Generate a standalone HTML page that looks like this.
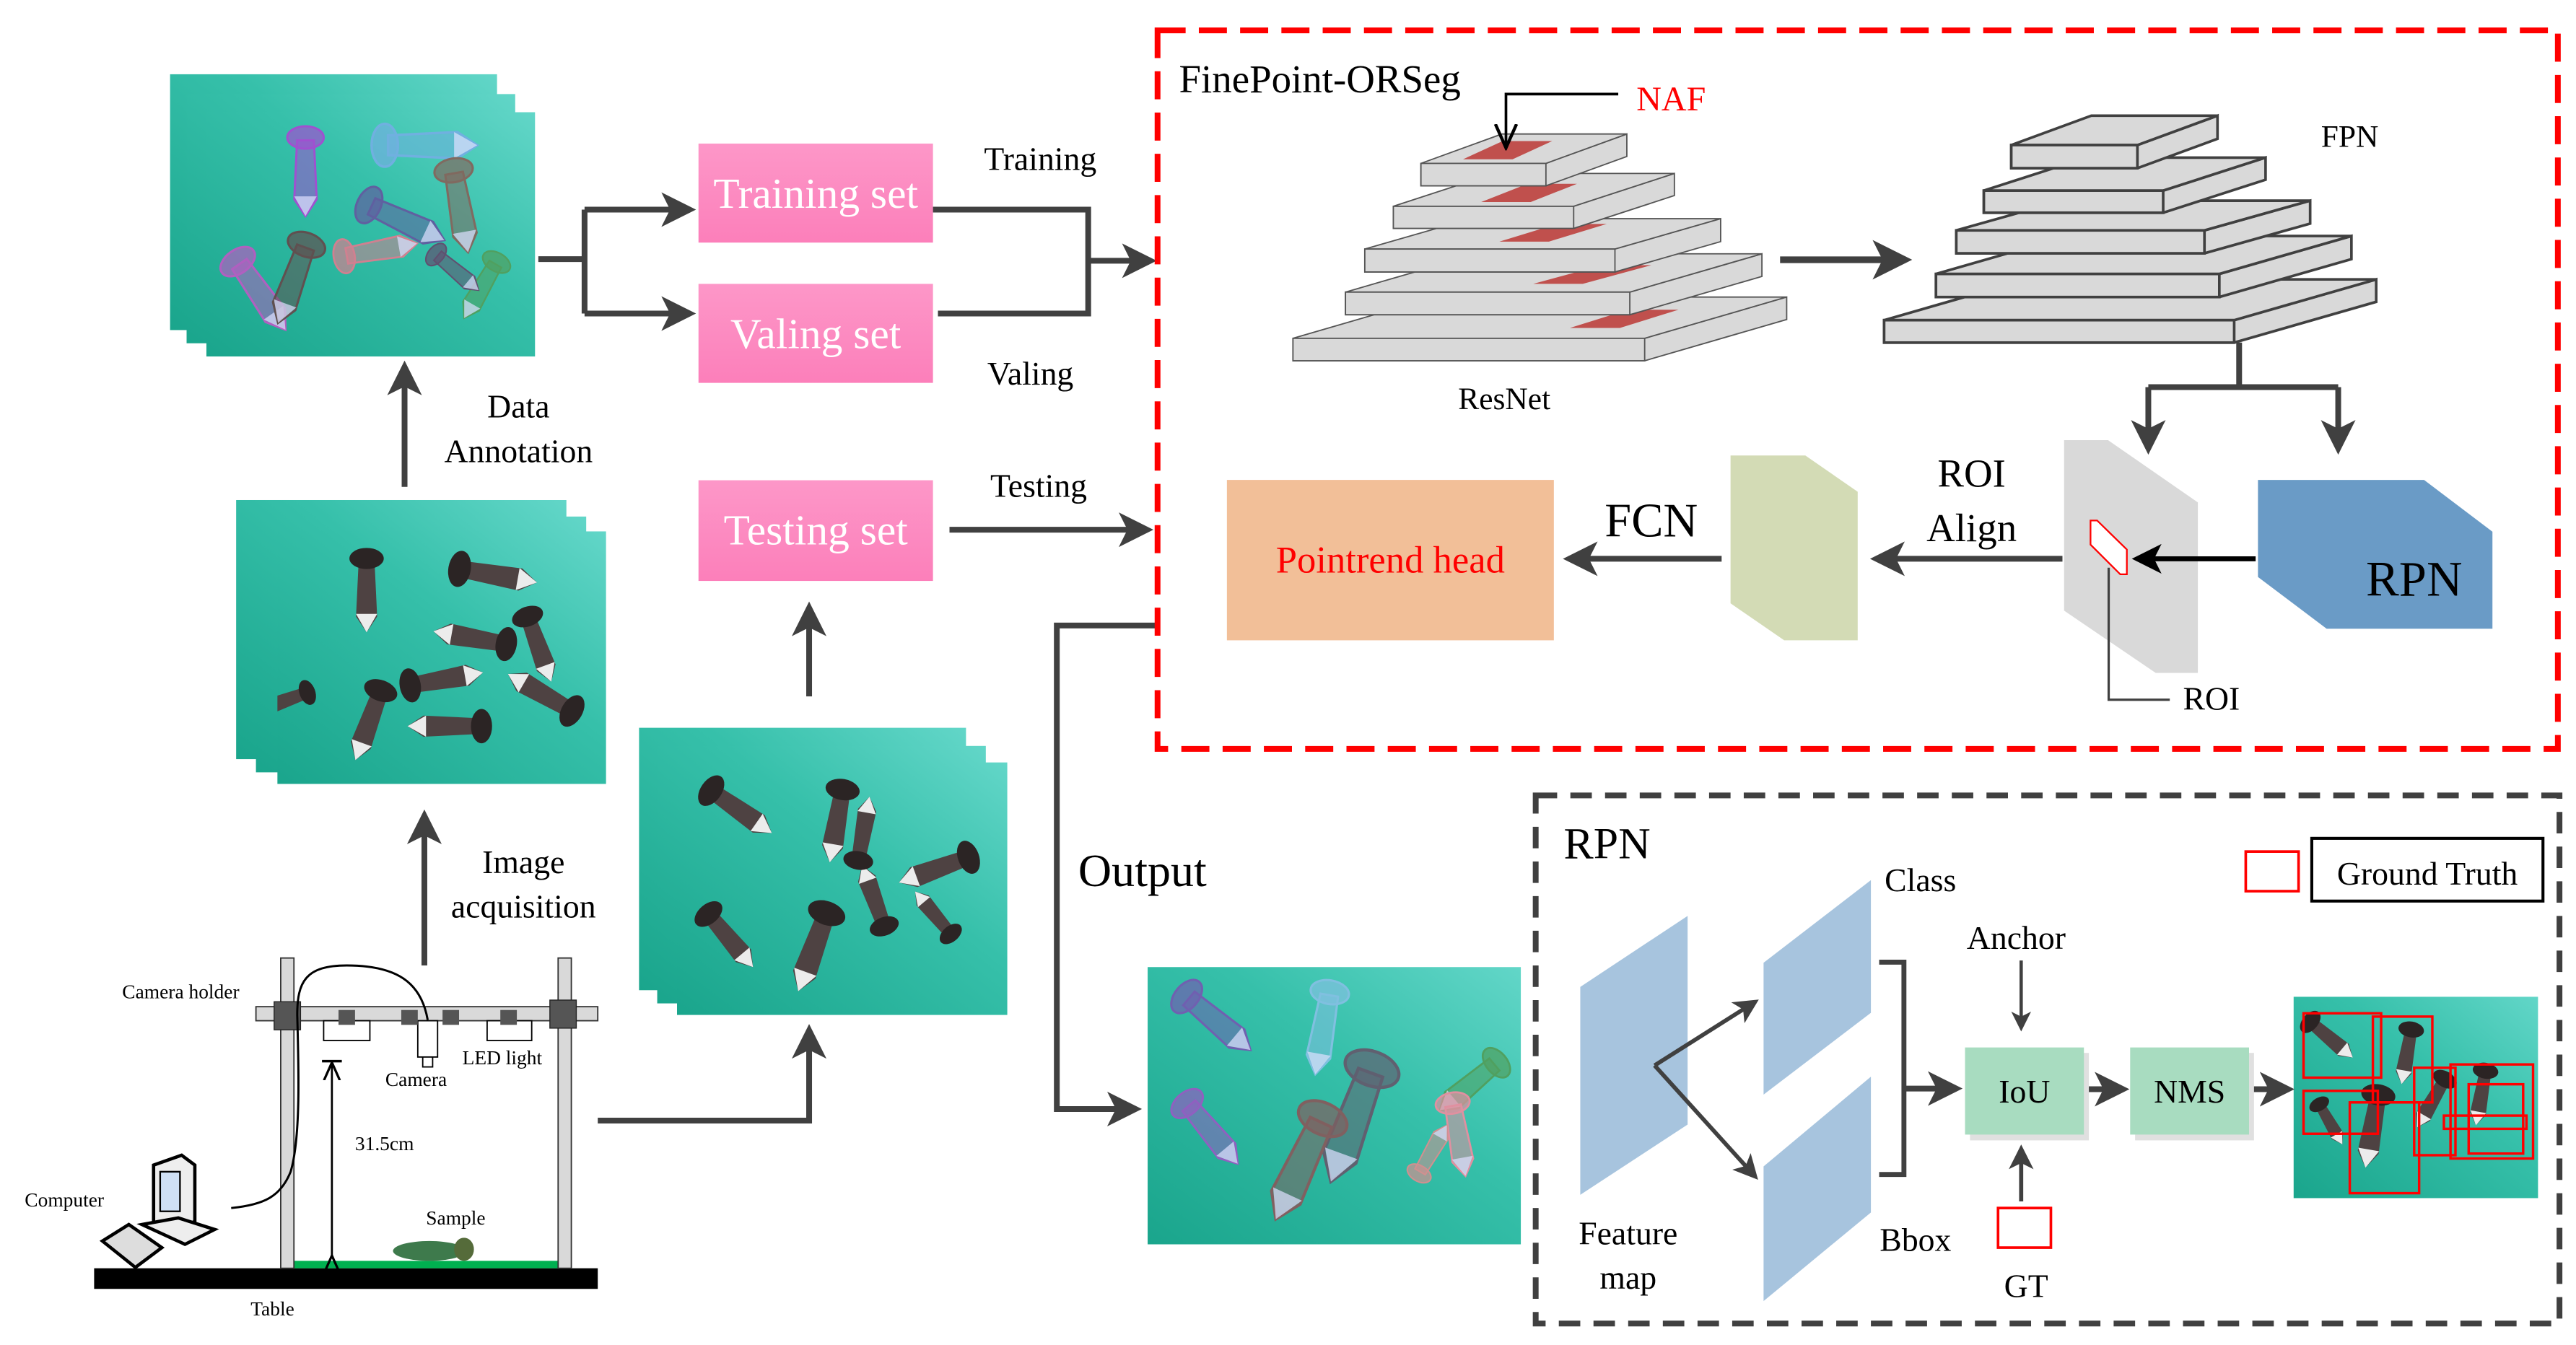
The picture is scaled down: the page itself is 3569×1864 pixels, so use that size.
<!DOCTYPE html>
<html><head><meta charset="utf-8"><style>html,body{margin:0;padding:0;background:#fff;overflow:hidden;width:3569px;height:1864px}svg{display:block}text{font-family:"Liberation Serif",serif}</style></head>
<body>
<svg width="3569" height="1864" viewBox="0 0 1560 815" preserveAspectRatio="none" xmlns="http://www.w3.org/2000/svg">
<defs>
<linearGradient id="tg" x1="0" y1="1" x2="1" y2="0"><stop offset="0" stop-color="#1aa58c"/><stop offset="0.6" stop-color="#36c0aa"/><stop offset="1" stop-color="#62d6c8"/></linearGradient>
<linearGradient id="pk" x1="0" y1="0" x2="0" y2="1"><stop offset="0" stop-color="#fd97c8"/><stop offset="1" stop-color="#fc7fba"/></linearGradient>
<g id="m"><polygon points="0,-6 42,-8 54,0 42,8 0,6" fill="#4e4242"/><polygon points="40,-8 54,0 40,8" fill="#ececec"/><ellipse cx="-2" cy="0" rx="8" ry="13" fill="#2b2424"/></g>
<g id="a"><polygon points="0,-6 42,-8 54,0 42,8 0,6" fill="currentColor" fill-opacity="0.55" stroke="currentColor" stroke-width="1.5"/><polygon points="40,-8 54,0 40,8" fill="#e0e0ff" fill-opacity="0.7"/><ellipse cx="-2" cy="0" rx="8" ry="13" fill="currentColor" fill-opacity="0.7" stroke="currentColor" stroke-width="1.5"/></g>
<marker id="ah" markerWidth="6" markerHeight="6" refX="5" refY="3" orient="auto" markerUnits="strokeWidth"><path d="M0,0 L6,3 L0,6 L1.5,3 z" fill="#404040"/></marker>
<marker id="ahb" markerWidth="6" markerHeight="6" refX="5" refY="3" orient="auto" markerUnits="strokeWidth"><path d="M0,0 L6,3 L0,6 L1.5,3 z" fill="#000"/></marker>
<marker id="ahs" markerWidth="10" markerHeight="10" refX="8" refY="5" orient="auto" markerUnits="strokeWidth"><path d="M0,1 L9,5 L0,9" fill="none" stroke="#000" stroke-width="1.2"/></marker>
<clipPath id="c1"><rect x="125" y="68" width="199" height="148"/></clipPath>
<clipPath id="c2"><rect x="168" y="322" width="199" height="153"/></clipPath>
<clipPath id="c3"><rect x="410" y="462" width="200" height="153"/></clipPath>
<clipPath id="c4"><rect x="695" y="586" width="226" height="168"/></clipPath>
<clipPath id="c5"><rect x="1389" y="604" width="148" height="122"/></clipPath>
</defs>

<!-- annotated stack -->
<rect x="103" y="45" width="198" height="155" fill="url(#tg)"/>
<rect x="113" y="57" width="199" height="151" fill="url(#tg)"/>
<rect x="125" y="68" width="199" height="148" fill="url(#tg)"/>
<g clip-path="url(#c1)">
<use href="#a" transform="translate(185,85) rotate(90) scale(0.85)" color="#a050d0"/>
<use href="#a" transform="translate(235,88) scale(1)" color="#70b0e0"/>
<use href="#a" transform="translate(225,125) rotate(25) scale(0.9)" color="#6060a0"/>
<use href="#a" transform="translate(275,105) rotate(80) scale(0.9)" color="#806a60"/>
<use href="#a" transform="translate(145,160) rotate(55) scale(0.9)" color="#b060c0"/>
<use href="#a" transform="translate(185,150) rotate(110) scale(0.9)" color="#605050"/>
<use href="#a" transform="translate(210,155) rotate(-10) scale(0.8)" color="#d08090"/>
<use href="#a" transform="translate(300,160) rotate(120) scale(0.7)" color="#50a060"/>
<use href="#a" transform="translate(265,155) rotate(40) scale(0.6)" color="#605070"/>
</g>

<!-- raw stack -->
<rect x="143" y="303" width="200" height="157" fill="url(#tg)"/>
<rect x="155" y="313" width="200" height="155" fill="url(#tg)"/>
<rect x="168" y="322" width="199" height="153" fill="url(#tg)"/>
<g clip-path="url(#c2)">
<use href="#m" transform="translate(222,340) rotate(90) scale(0.8)"/>
<use href="#m" transform="translate(280,345) rotate(10) scale(0.85)"/>
<use href="#m" transform="translate(305,390) rotate(190) scale(0.8)"/>
<use href="#m" transform="translate(320,375) rotate(70) scale(0.75)"/>
<use href="#m" transform="translate(230,420) rotate(110) scale(0.8)"/>
<use href="#m" transform="translate(250,415) rotate(-10) scale(0.8)"/>
<use href="#m" transform="translate(290,440) rotate(180) scale(0.8)"/>
<use href="#m" transform="translate(345,430) rotate(210) scale(0.8)"/>
<use href="#m" transform="translate(185,420) rotate(160) scale(0.6)"/>
</g>

<!-- test stack -->
<rect x="387" y="441" width="198" height="159" fill="url(#tg)"/>
<rect x="398" y="452" width="199" height="156" fill="url(#tg)"/>
<rect x="410" y="462" width="200" height="153" fill="url(#tg)"/>
<g clip-path="url(#c3)">
<use href="#m" transform="translate(432,480) rotate(35) scale(0.8)"/>
<use href="#m" transform="translate(510,480) rotate(100) scale(0.8)"/>
<use href="#m" transform="translate(585,520) rotate(160) scale(0.8)"/>
<use href="#m" transform="translate(430,555) rotate(50) scale(0.75)"/>
<use href="#m" transform="translate(500,555) rotate(110) scale(0.9)"/>
<use href="#m" transform="translate(535,560) rotate(-110) scale(0.7)"/>
<use href="#m" transform="translate(575,565) rotate(-130) scale(0.6)"/>
<use href="#m" transform="translate(520,520) rotate(-80) scale(0.7)"/>
</g>

<!-- output image -->
<rect x="695" y="586" width="226" height="168" fill="url(#tg)"/>
<g clip-path="url(#c4)">
<use href="#a" transform="translate(720,605) rotate(40) scale(0.9)" color="#7060b0"/>
<use href="#a" transform="translate(805,603) rotate(100) scale(0.9)" color="#80c0e0"/>
<use href="#a" transform="translate(720,670) rotate(50) scale(0.85)" color="#9060c0"/>
<use href="#a" transform="translate(830,650) rotate(110) scale(1.3)" color="#606070"/>
<use href="#a" transform="translate(800,680) rotate(115) scale(1.2)" color="#806060"/>
<use href="#a" transform="translate(905,645) rotate(140) scale(0.8)" color="#50a060"/>
<use href="#a" transform="translate(880,670) rotate(80) scale(0.8)" color="#e090a0"/>
<use href="#a" transform="translate(860,710) rotate(-60) scale(0.6)" color="#d09090"/>
</g>

<!-- result image -->
<rect x="1389" y="604" width="148" height="122" fill="url(#tg)"/>
<g clip-path="url(#c5)">
<use href="#m" transform="translate(1400,620) rotate(40) scale(0.6)"/>
<use href="#m" transform="translate(1460,625) rotate(100) scale(0.6)"/>
<use href="#m" transform="translate(1405,670) rotate(60) scale(0.5)"/>
<use href="#m" transform="translate(1440,665) rotate(100) scale(0.8)"/>
<use href="#m" transform="translate(1505,650) rotate(100) scale(0.6)"/>
<use href="#m" transform="translate(1480,655) rotate(120) scale(0.6)"/>
</g>
<g fill="none" stroke="#ff0000" stroke-width="1.5">
<rect x="1395" y="614" width="47" height="39"/><rect x="1437" y="616" width="36" height="52"/>
<rect x="1395" y="661" width="45" height="26"/><rect x="1423" y="668" width="42" height="55"/>
<rect x="1462" y="647" width="25" height="53"/><rect x="1484" y="645" width="50" height="57"/>
<rect x="1495" y="657" width="33" height="42"/><rect x="1480" y="676" width="50" height="8"/>
</g>

<!-- pink boxes -->
<rect x="423" y="87" width="142" height="60" fill="url(#pk)"/>
<rect x="423" y="172" width="142" height="60" fill="url(#pk)"/>
<rect x="423" y="291" width="142" height="61" fill="url(#pk)"/>
<g fill="#fff" font-size="26" text-anchor="middle">
<text x="494" y="126">Training set</text>
<text x="494" y="211">Valing set</text>
<text x="494" y="330">Testing set</text>
</g>

<!-- left arrows -->
<g stroke="#404040" stroke-width="3.5" fill="none">
<path d="M326,157 H354 M354,127 V190" />
<path d="M354,127 H418" marker-end="url(#ah)"/>
<path d="M354,190 H418" marker-end="url(#ah)"/>
<path d="M565,127 H659 V190 H568"/>
<path d="M659,158 H697" marker-end="url(#ah)"/>
<path d="M575,321 H695" marker-end="url(#ah)"/>
<path d="M245,295 V222" marker-end="url(#ah)"/>
<path d="M257,585 V494" marker-end="url(#ah)"/>
<path d="M490,422 V368" marker-end="url(#ah)"/>
<path d="M362,679 H490 V624" marker-end="url(#ah)"/>
<path d="M700,379 H640 V672 H688" marker-end="url(#ah)"/>
</g>
<g font-size="20" text-anchor="middle" fill="#000">
<text x="630" y="103">Training</text>
<text x="624" y="233">Valing</text>
<text x="629" y="301">Testing</text>
<text x="314" y="253">Data</text>
<text x="314" y="280">Annotation</text>
<text x="317" y="529">Image</text>
<text x="317" y="556">acquisition</text>
</g>
<text x="653" y="537" font-size="28">Output</text>

<!-- red dashed box -->
<rect x="701" y="18.4" width="848" height="435.4" fill="none" stroke="#ff0000" stroke-width="3.5" stroke-dasharray="17,8"/>
<text x="714" y="56" font-size="24">FinePoint-ORSeg</text>
<text x="991" y="67" font-size="21" fill="#ff0000">NAF</text>

<!-- resnet slabs -->
<g stroke="#555" stroke-width="0.8" fill="#d9d9d9">
<g><polygon points="783,218.6 996,218.6 1082,193.6 1082,180 996,205 783,205"/><polygon points="783,205 869,180 1082,180 996,205"/><rect x="783" y="205" width="213" height="13.6"/></g>
<polygon fill="#c0504d" stroke="none" points="950.7,198.7 981,198.7 1016.5,187.7 986,187.7"/>
<g><polygon points="814.8,190.7 987,190.7 1067,167.5 1067,153.8 987,177 814.8,177"/><polygon points="814.8,177 894.8,153.8 1067,153.8 987,177"/><rect x="814.8" y="177" width="172.2" height="13.7"/></g>
<polygon fill="#c0504d" stroke="none" points="928.5,172 958.5,172 1000,160.7 970,160.7"/>
<g><polygon points="826.5,164.8 978,164.8 1042,146.4 1042,132.5 978,150.9 826.5,150.9"/><polygon points="826.5,150.9 890.5,132.5 1042,132.5 978,150.9"/><rect x="826.5" y="150.9" width="151.5" height="13.9"/></g>
<polygon fill="#c0504d" stroke="none" points="908,146.4 938,146.4 973,135.7 943,135.7"/>
<g><polygon points="843.8,138.4 953,138.4 1014,118.5 1014,105.1 953,125 843.8,125"/><polygon points="843.8,125 904.8,105.1 1014,105.1 953,125"/><rect x="843.8" y="125" width="109.2" height="13.4"/></g>
<polygon fill="#c0504d" stroke="none" points="897,122.4 927,122.4 955,111.4 925,111.4"/>
<g><polygon points="860.5,112.6 936.2,112.6 985.2,94.8 985.2,81.2 936.2,99 860.5,99"/><polygon points="860.5,99 909.5,81.2 985.2,81.2 936.2,99"/><rect x="860.5" y="99" width="75.7" height="13.6"/></g>
<polygon fill="#c0504d" stroke="none" points="886,96.5 916,96.5 940,85.5 910,85.5"/>
</g>
<path d="M980,57 H912 V88" stroke="#000" stroke-width="1.6" fill="none" marker-end="url(#ahs)"/>
<text x="911" y="248" font-size="19" text-anchor="middle">ResNet</text>

<path d="M1078,157.4 H1154" stroke="#404040" stroke-width="4" marker-end="url(#ah)"/>

<!-- FPN slabs -->
<g stroke="#404040" stroke-width="1.6" fill="#d9d9d9">
<g><polygon points="1141,207.6 1353,207.6 1439,182.9 1439,169.3 1353,194 1141,194"/><polygon points="1141,194 1227,169.3 1439,169.3 1353,194"/><rect x="1141" y="194" width="212" height="13.6"/></g>
<g><polygon points="1172.4,180 1344,180 1424,157 1424,143 1344,166 1172.4,166"/><polygon points="1172.4,166 1252.4,143 1424,143 1344,166"/><rect x="1172.4" y="166" width="171.6" height="14"/></g>
<g><polygon points="1184.7,153.5 1335,153.5 1399,135.5 1399,121.6 1335,139.6 1184.7,139.6"/><polygon points="1184.7,139.6 1248.7,121.6 1399,121.6 1335,139.6"/><rect x="1184.7" y="139.6" width="150.3" height="13.9"/></g>
<g><polygon points="1201.4,128.9 1310,128.9 1372,108.9 1372,95.5 1310,115.5 1201.4,115.5"/><polygon points="1201.4,115.5 1263.4,95.5 1372,95.5 1310,115.5"/><rect x="1201.4" y="115.5" width="108.6" height="13.4"/></g>
<g><polygon points="1218,101.9 1294.4,101.9 1342.9,84.1 1342.9,70.1 1294.4,87.9 1218,87.9"/><polygon points="1218,87.9 1266.5,70.1 1342.9,70.1 1294.4,87.9"/><rect x="1218" y="87.9" width="76.4" height="14"/></g>
</g>
<text x="1423" y="89" font-size="19" text-anchor="middle">FPN</text>
<g stroke="#404040" stroke-width="3.5" fill="none">
<path d="M1356,207.6 V234.6 M1301,234.6 H1416"/>
<path d="M1301,234.6 V272" marker-end="url(#ah)"/>
<path d="M1416,234.6 V272" marker-end="url(#ah)"/>
</g>

<!-- ROI / RPN row -->
<polygon points="1250,266.7 1276.6,266.7 1331,304.4 1331,407.8 1305.5,407.8 1250,370" fill="#d9d9d9"/>
<polygon points="1367.4,290.8 1468,290.8 1509.4,322.2 1509.4,381 1409,381 1367.4,349.6" fill="#6a9bc6"/>
<text x="1462" y="361" font-size="30" text-anchor="middle">RPN</text>
<path d="M1366,338.6 H1294" stroke="#000" stroke-width="3" marker-end="url(#ahb)"/>
<polygon points="1266,315.4 1270,315.4 1288,333 1288,348 1284,348 1266,330" fill="#fff" stroke="#ff0000" stroke-width="1"/>
<path d="M1277,344 V424 H1314" stroke="#404040" stroke-width="1.4" fill="none"/>
<text x="1322" y="430" font-size="20">ROI</text>
<path d="M1249,338.6 H1136" stroke="#404040" stroke-width="3.5" marker-end="url(#ah)"/>
<text x="1194" y="295" font-size="24" text-anchor="middle">ROI</text>
<text x="1194" y="328" font-size="24" text-anchor="middle">Align</text>
<polygon points="1048,276 1093.3,276 1125,298 1125,388 1080.5,388 1048,365.6" fill="#d3dbb5"/>
<path d="M1042.6,338.6 H950" stroke="#404040" stroke-width="3.5" marker-end="url(#ah)"/>
<text x="1000" y="325" font-size="29" text-anchor="middle">FCN</text>
<rect x="743" y="290.8" width="198" height="97.2" fill="#f2bf98"/>
<text x="842" y="347" font-size="23" fill="#ff0000" text-anchor="middle">Pointrend head</text>

<!-- RPN dashed box -->
<rect x="930" y="482" width="620" height="320" fill="none" stroke="#404040" stroke-width="3.5" stroke-dasharray="13,8"/>
<text x="947" y="520" font-size="27">RPN</text>
<polygon points="957,598 1022,555 1022,681.4 957,724" fill="#a7c4de"/>
<polygon points="1068,583.4 1133,533.3 1133,613.7 1068,663.3" fill="#a7c4de"/>
<polygon points="1068,706.8 1133,652.4 1133,734.7 1068,788.4" fill="#a7c4de"/>
<g stroke="#404040" stroke-width="2.5" fill="none">
<path d="M1002,645.6 L1063,607" marker-end="url(#ah)"/>
<path d="M1002,645.6 L1063,713" marker-end="url(#ah)"/>
<path d="M1138,583 H1153 V711.7 H1138" stroke-width="3"/>
<path d="M1154,659.6 H1185" stroke-width="3.5" marker-end="url(#ah)"/>
<path d="M1224,582 V623" stroke-width="2" marker-end="url(#ah)"/>
<path d="M1224,728 V696" stroke-width="2.5" marker-end="url(#ah)"/>
<path d="M1264,660 H1286" stroke-width="3.5" marker-end="url(#ah)"/>
<path d="M1364,660 H1386" stroke-width="3.5" marker-end="url(#ah)"/>
</g>
<rect x="1193" y="638" width="72" height="53" fill="#e0e0e0"/>
<rect x="1190" y="634.7" width="72" height="52.8" fill="#a8dcc0"/>
<rect x="1293" y="638" width="72" height="53" fill="#e0e0e0"/>
<rect x="1290" y="634.7" width="72" height="52.8" fill="#a8dcc0"/>
<g font-size="20" text-anchor="middle">
<text x="1226" y="668">IoU</text>
<text x="1326" y="668">NMS</text>
<text x="1163" y="540">Class</text>
<text x="1221" y="575">Anchor</text>
<text x="1160" y="758">Bbox</text>
<text x="1227" y="786">GT</text>
<text x="986" y="754">Feature</text>
<text x="986" y="781">map</text>
</g>
<rect x="1210" y="732" width="32" height="24" fill="none" stroke="#ff0000" stroke-width="1.6"/>
<rect x="1360" y="516" width="32" height="24" fill="none" stroke="#ff0000" stroke-width="1.6"/>
<rect x="1400" y="508" width="140" height="38" fill="none" stroke="#000" stroke-width="1.8"/>
<text x="1470" y="536" font-size="20" text-anchor="middle">Ground Truth</text>

<!-- setup -->
<rect x="57" y="768.5" width="305" height="12.5" fill="#000"/>
<text x="165" y="797" font-size="12" text-anchor="middle">Table</text>
<rect x="178" y="764" width="160" height="4.5" fill="#00b050"/>
<rect x="170" y="580.5" width="8" height="188" fill="#d9d9d9" stroke="#333" stroke-width="0.8"/>
<rect x="338" y="580.5" width="8" height="188" fill="#d9d9d9" stroke="#333" stroke-width="0.8"/>
<rect x="155" y="610" width="207" height="8.5" fill="#d9d9d9" stroke="#333" stroke-width="0.8"/>
<rect x="166" y="607" width="16" height="17" fill="#555" stroke="#222" stroke-width="0.6"/>
<rect x="333" y="606" width="16" height="17" fill="#555" stroke="#222" stroke-width="0.6"/>
<g fill="#fff" stroke="#000" stroke-width="0.8">
<rect x="196" y="618.5" width="28" height="12"/><rect x="295" y="618.5" width="27" height="12"/>
<rect x="253" y="618.5" width="12" height="22"/><rect x="256" y="640.5" width="6" height="6"/>
</g>
<g fill="#555"><rect x="205" y="612" width="10" height="9"/><rect x="243" y="612" width="10" height="9"/><rect x="268" y="612" width="10" height="9"/><rect x="303" y="612" width="10" height="9"/></g>
<path d="M259,618 C255,595 240,585 210,585 C185,585 180,595 180,615 C181,650 182,690 176,710 C170,725 160,730 140,732" stroke="#000" stroke-width="1.3" fill="none"/>
<path d="M201,762 V645" stroke="#000" stroke-width="1.2" fill="none" marker-end="url(#ahs)" marker-start="url(#ahs)"/>
<line x1="195" y1="643" x2="207" y2="643" stroke="#000" stroke-width="1.5"/>
<g stroke="#000" stroke-width="2" fill="#eee">
<polygon points="93,706 110,700 118,706 118,740 104,748 93,742"/>
<rect x="97" y="710" width="12" height="24" fill="#cfe0f5" stroke-width="1"/>
<polygon points="86,742 108,738 130,745 112,754"/>
<polygon points="62,752 78,742 98,756 82,768" fill="#ddd"/>
</g>
<ellipse cx="260" cy="758" rx="22" ry="6" fill="#3e7a4c"/>
<ellipse cx="281" cy="757" rx="6" ry="7" fill="#556b3a"/>
<g font-size="12">
<text x="74" y="605">Camera holder</text>
<text x="252" y="658" text-anchor="middle">Camera</text>
<text x="280" y="645">LED light</text>
<text x="15" y="731">Computer</text>
<text x="258" y="742">Sample</text>
<text x="215" y="697">31.5cm</text>
</g>
</svg>
</body></html>
